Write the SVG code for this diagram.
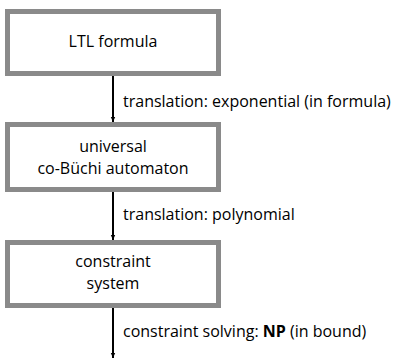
<svg xmlns="http://www.w3.org/2000/svg" width="405" height="360" viewBox="0 0 405 360">
<defs>
<marker id="ah" markerWidth="6" markerHeight="6" refX="5" refY="3" orient="auto" markerUnits="userSpaceOnUse">
<path d="M0,0.8 L5,3 L0,5.2 z" fill="#000"/>
</marker>
<style>
.box{fill:#fff;stroke:#8a8a8a;stroke-width:5}
.t{font-family:"Open Sans","Noto Sans",sans-serif;font-size:16px;fill:#000}
.c{text-anchor:middle}
.e{stroke:#000;stroke-width:2;fill:none;marker-end:url(#ah)}
</style>
</defs>
<rect width="405" height="360" fill="#fff"/>
<g id="n1"><rect class="box" x="7.5" y="11.5" width="211" height="62"/><text class="t c" x="113" y="47">LTL formula</text></g>
<g id="n2"><rect class="box" x="7.5" y="124.5" width="211" height="65"/><text class="t c" x="113" y="152">universal</text><text class="t c" x="113" y="174">co-Büchi automaton</text></g>
<g id="n3"><rect class="box" x="7.5" y="242.5" width="211" height="63"/><text class="t c" x="113" y="267">constraint</text><text class="t c" x="113" y="289">system</text></g>
<g id="edges">
<line class="e" x1="113" y1="76" x2="113" y2="122"/>
<line class="e" x1="113" y1="192" x2="113" y2="240"/>
<line class="e" x1="113" y1="308" x2="113" y2="358"/>
</g>
<text class="t" x="123" y="107">translation: exponential (in formula)</text>
<text class="t" x="123" y="220">translation: polynomial</text>
<text class="t" x="123" y="337">constraint solving: <tspan font-weight="bold">NP</tspan> (in bound)</text>
</svg>
